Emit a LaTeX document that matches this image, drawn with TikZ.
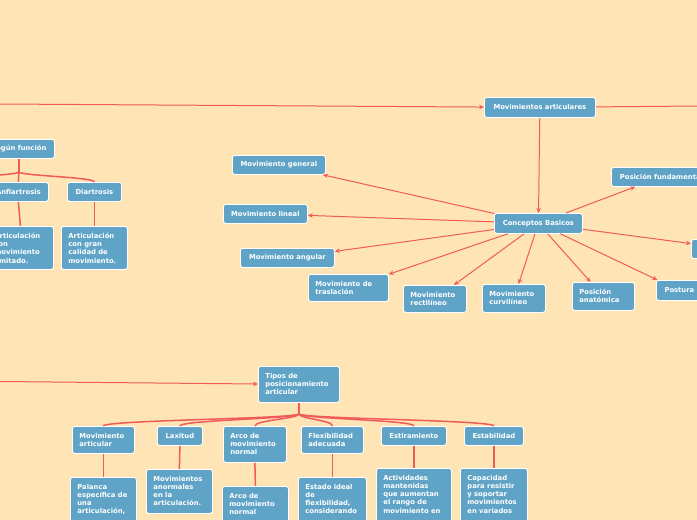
\documentclass[tikz,border=0pt]{standalone}
\usepackage{fontspec}
\setmainfont{DejaVu Sans}
\usetikzlibrary{arrows.meta}
\definecolor{bgc}{HTML}{FFE5B6}
\definecolor{boxc}{HTML}{5FA4C7}
\definecolor{linec}{HTML}{F05A5A}
\tikzset{
 box/.style={draw=white, line width=0.8pt, fill=boxc, rounded corners=2.5pt, text=white, font=\bfseries\fontsize{6.8}{8.3}\selectfont},
 sbox/.style={box, anchor=north west, inner sep=0pt, align=center},
 conn/.style={draw=linec, line width=1pt, -{Stealth[length=5pt,width=4.5pt]}},
 plainconn/.style={draw=linec, line width=1pt},
 tree/.style={draw=linec, line width=1.5pt},
}
\newcommand{\mysb}[6]{\node[sbox, minimum width=#4pt, minimum height=#5pt] (#1) at (#2,#3) {#6};}
\newcommand{\mytb}[6]{\node[box, anchor=north west, inner xsep=7pt, inner ysep=6.5pt] (#1) at (#2,#3) {\parbox[c][\dimexpr#5pt-13pt\relax][t]{\dimexpr#4pt-14pt\relax}{\raggedright #6}};}
\begin{document}
\begin{tikzpicture}[x=1pt,y=-1pt]
\useasboundingbox (0,0) rectangle (697,520);
\clip (0,0) rectangle (697,520);
\fill[bgc] (-10,-10) rectangle (710,530);

% top part
\coordinate (L1) at (0,104);
\coordinate (R1) at (697,106);
\mysb{ma}{484}{97}{111}{20}{Movimientos articulares}
\mysb{cb}{494}{213}{88}{20}{Conceptos Basicos}
\mysb{pf}{611}{167}{100}{19}{Posición fundamental}
\mysb{rb}{691}{239}{80}{19}{}
\mysb{pos}{656}{280}{46}{20}{Postura}
\mytb{pan}{572}{282}{62}{28}{Posición\\anatómica}
\mytb{curv}{482}{284}{63}{28}{Movimiento\\curvilíneo}
\mytb{rect}{403}{285}{63}{27}{Movimiento\\rectilíneo}
\mytb{tras}{308}{274}{80}{27}{Movimiento de\\traslación}
\mysb{ang}{240}{248}{94}{19}{Movimiento angular}
\mysb{lin}{223}{204}{84}{19}{Movimiento lineal}
\mysb{gen}{232}{155}{93}{19}{Movimiento general}

\draw[conn] (L1) -- (ma);
\draw[plainconn] (ma) -- (R1);
\draw[conn] (ma) -- (cb);
\foreach \t in {pf,rb,pos,pan,curv,rect,tras,ang,lin,gen}
  \draw[conn] (cb) -- (\t);

% left part
\mysb{sf}{-17}{139}{71}{19}{Según función}
\mysb{anf}{-12}{182}{60}{19}{Anfiartrosis}
\mysb{dia}{67}{182}{54}{19}{Diartrosis}
\mytb{anfd}{-13}{226}{66}{43}{Articulación\\con\\movimiento\\limitado.}
\mytb{diad}{61}{226}{66}{43}{Articulación\\con gran\\calidad de\\movimiento.}
\coordinate (SL) at (-60,182);
\draw[tree] (sf.south) -- ++(0,13) coordinate (sj);
\draw[tree] (sj) -- (anf.north);
\draw[tree] (sj) .. controls +(0,4) and +(0,-5) .. (dia.north);
\draw[tree] (sj) .. controls +(0,4) and +(0,-5) .. (SL);
\draw[tree] (anf.south) -- (anfd.north);
\draw[tree] (dia.south) -- (diad.north);

% bottom part
\coordinate (L2) at (0,381.5);
\mytb{tipos}{258}{366}{81}{36}{Tipos de\\posicionamiento\\articular}
\mytb{mart}{72}{426}{62}{27}{Movimiento\\articular}
\mysb{lax}{157}{426}{45}{19}{Laxitud}
\mytb{arco}{223}{426}{63}{36}{Arco de\\movimiento\\normal}
\mytb{flex}{301}{426}{62}{27}{Flexibilidad\\adecuada}
\mysb{est}{381}{426}{65}{19}{Estiramiento}
\mysb{stab}{464}{426}{59}{19}{Estabilidad}
\mytb{d1}{70}{477}{66}{60}{Palanca\\específica de\\una\\articulación,}
\mytb{d2}{146}{469}{66}{44}{Movimientos\\anormales\\en la\\articulación.}
\mytb{d3}{222}{486}{66}{50}{Arco de\\movimiento\\normal}
\mytb{d4}{298}{477}{68}{60}{Estado ideal\\de\\flexibilidad,\\considerando}
\mytb{d5}{376}{468}{75}{70}{Actividades\\mantenidas\\que aumentan\\el rango de\\movimiento en}
\mytb{d6}{460}{468}{67}{70}{Capacidad\\para resistir\\y soportar\\movimientos\\en variados}

\draw[conn] (L2) -- (tipos);
\draw[tree] (tipos.south) -- ++(0,11) coordinate (tj);
\foreach \c in {mart,lax,arco,flex,est,stab}
  \draw[tree] (tj) .. controls +(0,5) and +(0,-6) .. (\c.north);
\draw[tree] (mart.south) -- (d1.north);
\draw[tree] (lax.south) -- (d2.north);
\draw[tree] (arco.south) -- (d3.north);
\draw[tree] (flex.south) -- (d4.north);
\draw[tree] (est.south) -- (d5.north);
\draw[tree] (stab.south) -- (d6.north);
\end{tikzpicture}
\end{document}
